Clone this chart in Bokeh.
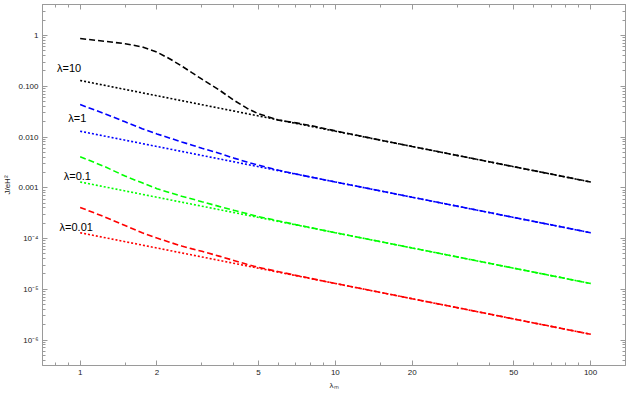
from bokeh.plotting import figure
from bokeh.models import Range1d, LogAxis, FixedTicker, Label
from bokeh.embed import file_html
from bokeh.resources import INLINE

# ---- data ----
x_dashed = [1, 1.25, 1.5, 1.75, 2, 2.25, 2.5, 2.75, 3, 3.5, 4, 4.5, 5, 6, 7, 8, 10, 15, 20, 30, 50, 70, 100]
black_dashed = [0.87, 0.77, 0.69, 0.595, 0.47, 0.345, 0.25, 0.183, 0.138, 0.085, 0.053, 0.037, 0.0286,
                0.0215, 0.019, 0.0168, 0.0132, 0.0087, 0.0065, 0.00435, 0.0026, 0.00186, 0.0013]
blue_dashed = [0.0437, 0.0286, 0.0199, 0.0146, 0.0115, 0.0095, 0.0080, 0.0069, 0.0060, 0.0048, 0.00384,
               0.00322, 0.00278, 0.00221, 0.00187, 0.00163, 0.0013, 0.00087, 0.00065, 0.000435,
               0.00026, 0.000186, 0.00013]
green_dashed = [0.0041, 0.0026, 0.0017, 0.00125, 0.00096, 0.0008, 0.00068, 0.0006, 0.00053, 0.00043,
                0.00036, 0.00031, 0.00027, 0.000222, 0.000188, 0.000164, 0.00013, 8.7e-5, 6.5e-5,
                4.35e-5, 2.6e-5, 1.86e-5, 1.3e-5]
red_dashed = [4.1e-4, 2.65e-4, 1.8e-4, 1.3e-4, 1.02e-4, 8.4e-5, 7.1e-5, 6.25e-5, 5.6e-5, 4.5e-5,
              3.7e-5, 3.1e-5, 2.7e-5, 2.22e-5, 1.88e-5, 1.64e-5, 1.3e-5, 8.7e-6, 6.5e-6, 4.35e-6,
              2.6e-6, 1.86e-6, 1.3e-6]

x_dotted = [1, 2, 5, 10, 20, 50, 100]
black_dotted = [0.13, 0.065, 0.026, 0.013, 0.0065, 0.0026, 0.0013]
blue_dotted = [0.013, 0.0065, 0.0026, 0.0013, 0.00065, 0.00026, 0.00013]
green_dotted = [0.0013, 0.00065, 0.00026, 0.00013, 6.5e-5, 2.6e-5, 1.3e-5]
red_dotted = [1.3e-4, 6.5e-5, 2.6e-5, 1.3e-5, 6.5e-6, 2.6e-6, 1.3e-6]

labels = ["λ=10", "λ=1", "λ=0.1", "λ=0.01"]
label_x = [0.905, 0.975, 0.975, 0.965]
label_y = [0.224, 0.0232, 0.00167, 1.65e-4]

x_ticks = [1, 2, 5, 10, 20, 50, 100]
x_tick_labels = ["1", "2", "5", "10", "20", "50", "100"]
x_minor = [0.8, 0.9, 1.5, 3, 4, 6, 7, 8, 9, 15, 30, 40, 60, 70, 80, 90]
y_ticks = [1e-6, 1e-5, 1e-4, 1e-3, 1e-2, 1e-1, 1]
y_tick_labels = ["10⁻⁶", "10⁻⁵", "10⁻⁴", "0.001", "0.010", "0.100", "1"]
y_minor = [k * 10.0 ** e for e in range(-7, 1) for k in range(2, 10)]

FONT = "Liberation Sans"
FRAME = "#9a9a9a"

p = figure(width=630, height=393, x_axis_type="log", y_axis_type="log",
           x_range=Range1d(0.712, 137), y_range=Range1d(10 ** -6.502, 10 ** 0.611),
           output_backend="svg", toolbar_location=None,
           min_border_left=41, min_border_right=5, min_border_top=4, min_border_bottom=28)
p.background_fill_color = "white"
p.border_fill_color = "white"
p.outline_line_color = FRAME
p.xgrid.visible = False
p.ygrid.visible = False

series = [
    ("black", black_dashed, black_dotted),
    ("#0000ff", blue_dashed, blue_dotted),
    ("#00ff00", green_dashed, green_dotted),
    ("#ff0000", red_dashed, red_dotted),
]
for color, yd, yt in series:
    p.line(x_dotted, yt, line_color=color, line_width=1.6, line_dash="2 2")
    p.line(x_dashed, yd, line_color=color, line_width=1.6, line_dash="6 3")

for t, lx, ly in zip(labels, label_x, label_y):
    p.add_layout(Label(x=lx, y=ly, text=t, text_align="center", text_baseline="middle",
                       text_font=FONT, text_font_size="11px", text_color="black"))


def style(ax, show):
    ax.axis_line_color = FRAME
    ax.major_tick_line_color = FRAME
    ax.minor_tick_line_color = FRAME
    ax.major_tick_in = 5
    ax.major_tick_out = 0
    ax.minor_tick_in = 3
    ax.minor_tick_out = 0
    if show:
        ax.major_label_text_font = FONT
        ax.major_label_text_font_size = "8px"
        ax.major_label_text_color = "#222222"
        ax.major_label_standoff = 4
        ax.axis_label_text_font = FONT
        ax.axis_label_text_font_style = "normal"
        ax.axis_label_text_font_size = "8px"
        ax.axis_label_text_color = "#222222"
    else:
        ax.major_label_text_font_size = "0px"
        ax.major_label_standoff = 0


xt = FixedTicker(ticks=x_ticks, minor_ticks=x_minor)
yt = FixedTicker(ticks=y_ticks, minor_ticks=y_minor)
xo = dict(zip(x_ticks, x_tick_labels))
yo = dict(zip(y_ticks, y_tick_labels))

xa = p.xaxis[0]
xa.ticker = xt
xa.major_label_overrides = xo
style(xa, True)
xa.axis_label = "λₘ"
xa.axis_label_standoff = 3

ya = p.yaxis[0]
ya.ticker = yt
ya.major_label_overrides = yo
style(ya, True)
ya.axis_label = "J/eH²"
ya.axis_label_standoff = 3

top = LogAxis(ticker=FixedTicker(ticks=x_ticks, minor_ticks=x_minor))
style(top, False)
top.major_label_overrides = {t: "" for t in x_ticks}
p.add_layout(top, "above")
right = LogAxis(ticker=FixedTicker(ticks=y_ticks, minor_ticks=y_minor))
style(right, False)
right.major_label_overrides = {t: "" for t in y_ticks}
p.add_layout(right, "right")

open("out.html", "w").write(file_html(p, INLINE))
